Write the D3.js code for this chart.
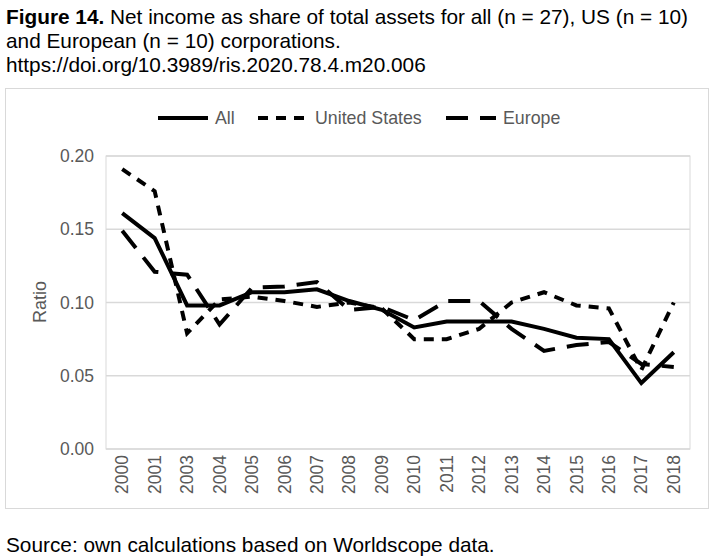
<!DOCTYPE html>
<html><head><meta charset="utf-8">
<script src="https://cdn.jsdelivr.net/npm/d3@7"></script>
<style>
body{margin:0;background:#fff;font-family:Arial,"Liberation Sans",sans-serif;}
</style></head><body>
<svg id="c" width="714" height="557"></svg>
<script>
const years = ["2000","2001","2003","2004","2005","2006","2007","2008","2009","2010","2011","2012","2013","2014","2015","2016","2017","2018"];
const allCorp = [0.161,0.144,0.098,0.098,0.107,0.107,0.109,0.101,0.095,0.083,0.087,0.087,0.087,0.082,0.076,0.075,0.045,0.066];
const usCorp = [0.191,0.176,0.079,0.102,0.104,0.101,0.097,0.100,0.096,0.075,0.075,0.082,0.100,0.107,0.098,0.096,0.054,0.100];
const euCorp = [0.149,0.121,0.119,0.085,0.110,0.111,0.114,0.095,0.097,0.088,0.101,0.101,0.082,0.067,0.071,0.073,0.058,0.056];
const yTicks = [0,0.05,0.10,0.15,0.20];

const svg = d3.select("#c");
const fs = 20.8;
const t = svg.append("text").attr("x",6).attr("y",24).attr("font-size",fs);
t.append("tspan").attr("font-weight","bold").text("Figure 14.");
t.append("tspan").text(" Net income as share of total assets for all (n = 27), US (n = 10)");
svg.append("text").attr("x",6).attr("y",48).attr("font-size",fs).text("and European (n = 10) corporations.");
svg.append("text").attr("x",6).attr("y",72).attr("font-size",fs).text("https://doi.org/10.3989/ris.2020.78.4.m20.006");
svg.append("text").attr("x",6).attr("y",552).attr("font-size",fs).text("Source: own calculations based on Worldscope data.");

svg.append("rect").attr("x",5.5).attr("y",88.5).attr("width",703).attr("height",420)
  .attr("fill","none").attr("stroke","#d9d9d9");

const x = d3.scaleBand().domain(years).range([106,690]);
const y = d3.scaleLinear().domain([0,0.2]).range([449,156]);

svg.append("rect").attr("x",106).attr("y",156).attr("width",584).attr("height",293)
  .attr("fill","none").attr("stroke","#d9d9d9");
svg.append("g").selectAll("line").data(yTicks).join("line")
  .attr("x1",106).attr("x2",690).attr("y1",d=>y(d)).attr("y2",d=>y(d))
  .attr("stroke","#d9d9d9").attr("stroke-width",1.3);

const ya = svg.append("g").attr("transform","translate(106,0)")
  .call(d3.axisLeft(y).tickValues(yTicks).tickFormat(d3.format(".2f")).tickSize(0).tickPadding(12));
ya.select(".domain").remove();
ya.selectAll("text").attr("font-size",17.5).attr("fill","#595959").attr("font-family","Arial,'Liberation Sans',sans-serif");

const xa = svg.append("g").attr("transform","translate(0,449)")
  .call(d3.axisBottom(x).tickSize(0));
xa.select(".domain").remove();
xa.selectAll("text").attr("font-size",17.5).attr("fill","#595959").attr("font-family","Arial,'Liberation Sans',sans-serif")
  .attr("text-anchor","end").attr("dx","-6").attr("dy","0.35em").attr("y",0).attr("x",0)
  .attr("transform",d=>`translate(${x.bandwidth()/2},0) rotate(-90)`);
xa.selectAll(".tick").attr("transform",d=>`translate(${x(d)},0)`);

svg.append("text").attr("transform","translate(46,302) rotate(-90)").attr("text-anchor","middle")
  .attr("font-size",18).attr("fill","#595959").text("Ratio");

const series = [
  {name:"All", v:allCorp, dash:null},
  {name:"United States", v:usCorp, dash:"10,8"},
  {name:"Europe", v:euCorp, dash:"22,12"}
];
const line = d3.line().x((d,i)=>x(years[i])+x.bandwidth()/2).y(d=>y(d));
series.forEach(s=>{
  svg.append("path").attr("d",line(s.v)).attr("fill","none").attr("stroke","#000")
    .attr("stroke-width",4).attr("stroke-dasharray",s.dash);
});

const lg = [{s:series[0],x:158},{s:series[1],x:258},{s:series[2],x:446}];
lg.forEach(l=>{
  svg.append("line").attr("x1",l.x).attr("x2",l.x+50).attr("y1",118).attr("y2",118)
    .attr("stroke","#000").attr("stroke-width",4).attr("stroke-dasharray",l.s.dash);
  svg.append("text").attr("x",l.x+57).attr("y",124).attr("font-size",17.8).attr("fill","#595959").text(l.s.name);
});
</script>
</body></html>
